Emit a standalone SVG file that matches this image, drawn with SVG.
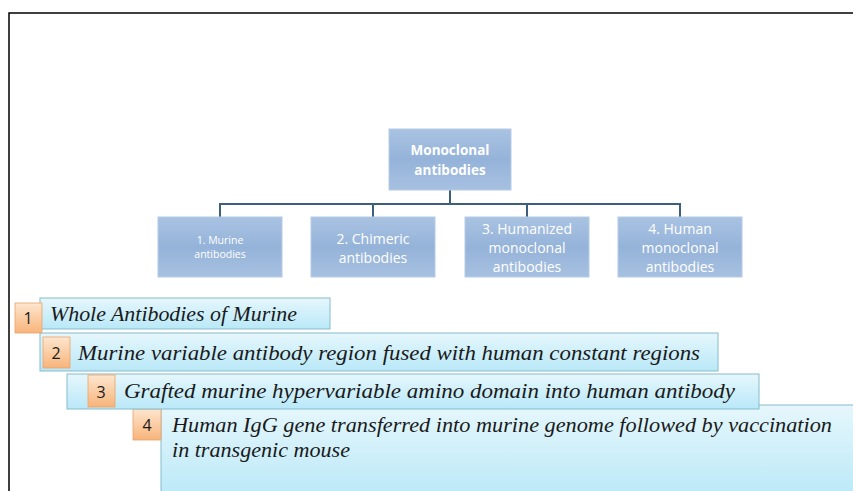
<svg xmlns="http://www.w3.org/2000/svg" width="853" height="491" viewBox="0 0 853 491">
<defs>
<linearGradient id="gBlue" x1="0" y1="0" x2="0" y2="1">
<stop offset="0" stop-color="#a9c2e2"/>
<stop offset="0.5" stop-color="#95b3d9"/>
<stop offset="1" stop-color="#a6c0e0"/>
</linearGradient>
<linearGradient id="gBar" x1="0" y1="0" x2="0" y2="1">
<stop offset="0" stop-color="#e6f7fc"/>
<stop offset="1" stop-color="#b9e8f8"/>
</linearGradient>
<linearGradient id="gBadge" x1="0" y1="0" x2="0" y2="1">
<stop offset="0" stop-color="#fde6cf"/>
<stop offset="1" stop-color="#f8b47a"/>
</linearGradient>
</defs>
<style>
.node{fill:url(#gBlue);stroke:#b6cbe6;stroke-width:1}
.nt{font-family:"Open Sans","Liberation Sans",sans-serif;fill:#ffffff;text-anchor:middle}
.conn{fill:none;stroke:#3b5f7d;stroke-width:2}
.bar{fill:url(#gBar);stroke:#86bccb;stroke-width:1}
.badge{fill:url(#gBadge);stroke:#eaa46a;stroke-width:0.8}
.bn{font-family:"Open Sans","Liberation Sans",sans-serif;font-size:16px;fill:#1a1a1a;text-anchor:middle}
.bt{font-family:"Liberation Serif","DejaVu Serif",serif;font-style:italic;font-size:22px;fill:#1a1a1a}
.frame{fill:none;stroke:#000;stroke-width:1.5}
</style>
<rect width="853" height="491" fill="#ffffff"/>
<path class="frame" d="M9,491 V13 H853"/>

<g id="connectors">
<path class="conn" d="M450,190 V204"/>
<path class="conn" d="M220,217 V204 H680 V217"/>
<path class="conn" d="M373,204 V217"/>
<path class="conn" d="M527,204 V217"/>
</g>

<g id="root">
<rect class="node" x="389" y="129" width="122" height="61"/>
<text class="nt" x="450" y="155" font-size="13.5" font-weight="bold">Monoclonal</text>
<text class="nt" x="450" y="175" font-size="13.5" font-weight="bold">antibodies</text>
</g>
<g id="n1">
<rect class="node" x="158" y="217" width="124" height="60"/>
<text class="nt" x="220" y="244" font-size="10.5">1. Murine</text>
<text class="nt" x="220" y="258" font-size="10.5">antibodies</text>
</g>
<g id="n2">
<rect class="node" x="311" y="217" width="124" height="60"/>
<text class="nt" x="373" y="244" font-size="14">2. Chimeric</text>
<text class="nt" x="373" y="263" font-size="14">antibodies</text>
</g>
<g id="n3">
<rect class="node" x="465" y="217" width="124" height="60"/>
<text class="nt" x="527" y="234" font-size="14">3. Humanized</text>
<text class="nt" x="527" y="253" font-size="14">monoclonal</text>
<text class="nt" x="527" y="272" font-size="14">antibodies</text>
</g>
<g id="n4">
<rect class="node" x="618" y="217" width="124" height="60"/>
<text class="nt" x="680" y="234" font-size="14">4. Human</text>
<text class="nt" x="680" y="253" font-size="14">monoclonal</text>
<text class="nt" x="680" y="272" font-size="14">antibodies</text>
</g>

<g id="item4">
<rect class="bar" x="161" y="405" width="700" height="95"/>
<rect class="badge" x="133" y="409" width="28" height="31"/>
<text class="bn" x="147" y="431">4</text>
<text class="bt" x="172" y="432" textLength="660" lengthAdjust="spacingAndGlyphs">Human IgG gene transferred into murine genome followed by vaccination</text>
<text class="bt" x="172" y="457" textLength="178" lengthAdjust="spacingAndGlyphs">in transgenic mouse</text>
</g>
<g id="item3">
<rect class="bar" x="67" y="374" width="692" height="35"/>
<rect class="badge" x="88" y="375" width="27" height="32"/>
<text class="bn" x="101" y="398">3</text>
<text class="bt" x="124" y="398" textLength="611" lengthAdjust="spacingAndGlyphs">Grafted murine hypervariable amino domain into human antibody</text>
</g>
<g id="item2">
<rect class="bar" x="40" y="333" width="678" height="38"/>
<rect class="badge" x="43" y="337" width="27" height="31"/>
<text class="bn" x="56" y="359">2</text>
<text class="bt" x="78" y="360" textLength="622" lengthAdjust="spacingAndGlyphs">Murine variable antibody region fused with human constant regions</text>
</g>
<g id="item1">
<rect class="bar" x="40" y="298" width="290" height="31"/>
<rect class="badge" x="15" y="303" width="27" height="30"/>
<text class="bn" x="28" y="324">1</text>
<text class="bt" x="50" y="321" textLength="247" lengthAdjust="spacingAndGlyphs">Whole Antibodies of Murine</text>
</g>
</svg>
